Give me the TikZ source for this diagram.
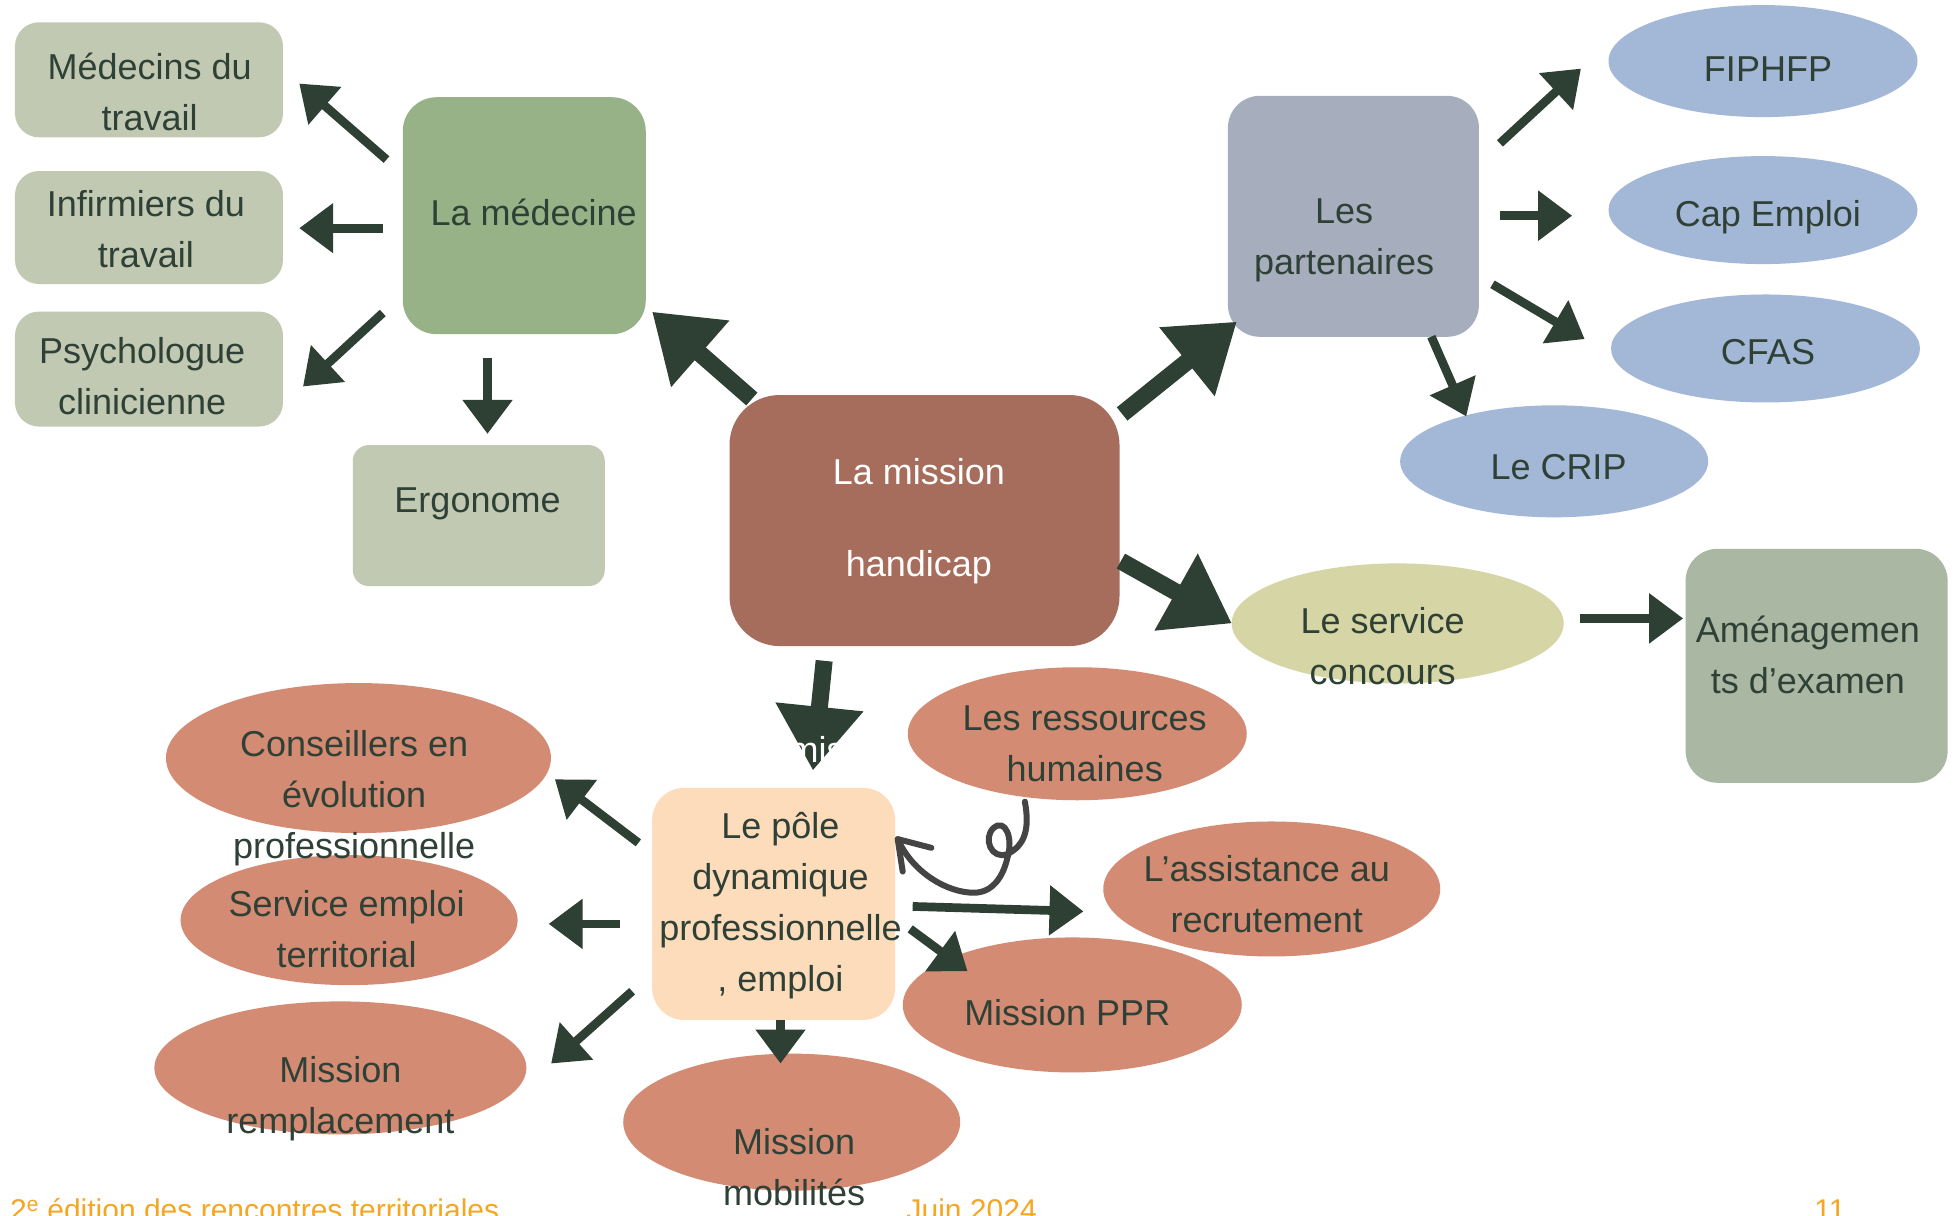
\documentclass[tikz,border=0pt]{standalone}
\usepackage{fontspec}
\setmainfont{Liberation Sans}
\usetikzlibrary{shapes.geometric,arrows.meta}
\definecolor{arr}{HTML}{2E4034}
\definecolor{txt}{HTML}{2F4136}
\definecolor{sage}{HTML}{C2C9B3}
\definecolor{medgreen}{HTML}{97B287}
\definecolor{brownm}{HTML}{A66D5C}
\definecolor{partgray}{HTML}{A6ADBD}
\definecolor{bluee}{HTML}{A3B8D6}
\definecolor{olive}{HTML}{D6D5A5}
\definecolor{amgreen}{HTML}{A9B7A3}
\definecolor{salmon}{HTML}{D48B74}
\definecolor{peach}{HTML}{FDDCBC}
\definecolor{curl}{HTML}{444444}
\definecolor{footer}{HTML}{F5A623}
\begin{document}
\begin{tikzpicture}[x=1.2468pt,y=-1.2468pt,
  box/.style={rectangle,rounded corners=24pt,inner sep=0pt},
  blob/.style={ellipse,inner sep=0pt},
  lbl/.style={text=txt,font=\fontsize{36}{51}\selectfont,align=center,inner sep=0pt,yshift=-0.5pt},
  sarrow/.style={draw=arr,line width=8.7pt,-{Triangle[length=34pt,width=48pt]}},
  barrow/.style={draw=arr,line width=17pt,-{Triangle[length=64pt,width=84pt]}},
  foot/.style={text=footer,font=\fontsize{30}{36}\selectfont,anchor=base west,inner sep=0pt}]
\useasboundingbox[fill=white] (0,0) rectangle (1568,975);

% ---- shapes ----
\node[box,fill=sage,minimum width=268pt,minimum height=115pt] (med1) at (119.5,64) {};
\node[box,fill=sage,minimum width=268pt,minimum height=113pt] (med2) at (119.5,182.5) {};
\node[box,fill=sage,minimum width=268pt,minimum height=115pt] (med3) at (119.5,296) {};
\node[box,fill=medgreen,minimum width=243pt,minimum height=237pt,rounded corners=34pt] (medecine) at (420.5,173) {};
\node[box,fill=sage,minimum width=252pt,minimum height=141pt,rounded corners=16pt] (ergo) at (384,413.5) {};
\node[box,fill=brownm,minimum width=390pt,minimum height=251pt,rounded corners=50pt] (mission) at (741.5,417.5) {};
\node[box,fill=partgray,minimum width=251pt,minimum height=241pt,rounded corners=32pt] (part) at (1085.5,173.5) {};
\node[box,fill=amgreen,minimum width=262pt,minimum height=234pt,rounded corners=32pt] (amenag) at (1457,534) {};
\node[box,fill=peach,minimum width=243pt,minimum height=232pt,rounded corners=32pt] (pole) at (620.5,725) {};

\node[blob,fill=bluee,minimum width=309pt,minimum height=112pt] (fiphfp) at (1414,49) {};
\node[blob,fill=bluee,minimum width=309pt,minimum height=108pt] (cap) at (1414,168.5) {};
\node[blob,fill=bluee,minimum width=309pt,minimum height=108pt] (cfas) at (1416,279.5) {};
\node[blob,fill=bluee,minimum width=308pt,minimum height=112pt] (crip) at (1246.5,370) {};
\node[blob,fill=olive,minimum width=332pt,minimum height=120pt] (concours) at (1121,500) {};
\node[blob,fill=salmon,minimum width=339pt,minimum height=133pt] (rh) at (864,588.5) {};
\node[blob,fill=salmon,minimum width=385pt,minimum height=150pt] (conseil) at (287.5,608) {};
\node[blob,fill=salmon,minimum width=337pt,minimum height=130pt] (semploi) at (280,738) {};
\node[blob,fill=salmon,minimum width=372pt,minimum height=133pt] (rempl) at (273,856.5) {};
\node[blob,fill=salmon,minimum width=337pt,minimum height=137pt] (mobil) at (635,900) {};
\node[blob,fill=salmon,minimum width=337pt,minimum height=135pt] (assist) at (1020,713) {};
\node[blob,fill=salmon,minimum width=339pt,minimum height=135pt] (ppr) at (860,806) {};

% ---- arrow end points ----
\coordinate (a1s) at (310,128);  \coordinate (a1e) at (240,67);
\coordinate (a2s) at (307,183);  \coordinate (a2e) at (240,183);
\coordinate (a3s) at (307,251);  \coordinate (a3e) at (243,310);
\coordinate (a4s) at (391,287);  \coordinate (a4e) at (391,348);
\coordinate (a5s) at (603,320);  \coordinate (a5e) at (523,250);
\coordinate (a6s) at (900,332);  \coordinate (a6e) at (992,258);
\coordinate (a7s) at (1203,115); \coordinate (a7e) at (1268,55);
\coordinate (a8s) at (1203,173); \coordinate (a8e) at (1261,173);
\coordinate (a9s) at (1197,228); \coordinate (a9e) at (1271,272);
\coordinate (a10s) at (1148,270); \coordinate (a10e) at (1176,334);
\coordinate (a11s) at (899,450); \coordinate (a11e) at (988,500);
\coordinate (a12s) at (1267,496); \coordinate (a12e) at (1350,496);
\coordinate (a13s) at (661,530); \coordinate (a13e) at (652,618);
\coordinate (a14s) at (512,676); \coordinate (a14e) at (445,625);
\coordinate (a15s) at (497,741); \coordinate (a15e) at (440,741);
\coordinate (a16s) at (507,795); \coordinate (a16e) at (442,853);
\coordinate (a17s) at (626,818); \coordinate (a17e) at (626,853);
\coordinate (a18s) at (732,727); \coordinate (a18e) at (869,731);
\coordinate (a19s) at (730,745); \coordinate (a19e) at (776,779);

\draw[sarrow] (a1s) -- (a1e);
\draw[sarrow] (a2s) -- (a2e);
\draw[sarrow] (a3s) -- (a3e);
\draw[sarrow] (a4s) -- (a4e);
\draw[barrow] (a5s) -- (a5e);
\draw[barrow] (a6s) -- (a6e);
\draw[sarrow] (a7s) -- (a7e);
\draw[sarrow] (a8s) -- (a8e);
\draw[sarrow] (a9s) -- (a9e);
\draw[sarrow] (a10s) -- (a10e);
\draw[barrow] (a11s) -- (a11e);
\draw[sarrow] (a12s) -- (a12e);
\draw[barrow] (a13s) -- (a13e);
\draw[sarrow] (a14s) -- (a14e);
\draw[sarrow] (a15s) -- (a15e);
\draw[sarrow] (a16s) -- (a16e);
\draw[sarrow] (a17s) -- (a17e);
\draw[sarrow] (a18s) -- (a18e);
\draw[sarrow] (a19s) -- (a19e);

% ---- curly arrow from RH to pole ----
\coordinate (c0) at (822,643);
\coordinate (ctip) at (720,673);
\draw[curl,line width=6pt,line cap=round,line join=round]
  (c0) .. controls (826,665) and (822,678) .. (808,685)
       .. controls (795,690) and (788,672) .. (797,664)
       .. controls (806,656) and (813,672) .. (808,688)
       .. controls (804,705) and (795,716) .. (781,716)
       .. controls (760,716) and (732,700) .. (ctip);
\draw[curl,line width=6pt,line cap=round,line join=round]
  (747,680) -- (ctip) -- (724,699);

% ---- texts ----
\node[lbl] (med1T) at (120,73.5) {Médecins du\\travail};
\node[lbl] (med2T) at (117,183) {Infirmiers du\\travail};
\node[lbl] (med3T) at (114,301.5) {Psychologue\\clinicienne};
\node[lbl] (medecineT) at (428,170) {La médecine};
\node[lbl] (ergoT) at (383,404) {Ergonome};
\node[lbl,text=white,font=\fontsize{36}{92}\selectfont] (missionT) at (737,418) {La mission\\handicap};
\node[lbl] (partT) at (1078,192.5) {Les\\partenaires};
\node[lbl] (fiphfpT) at (1418,55) {FIPHFP};
\node[lbl] (capT) at (1418,174) {Cap Emploi};
\node[lbl] (cfasT) at (1418,282) {CFAS};
\node[lbl] (cripT) at (1250,374) {Le CRIP};
\node[lbl] (concoursT) at (1109,517.5) {Le service\\concours};
\node[lbl] (amenagT) at (1450,524.5) {Aménagemen\\ts d’examen};
\node[lbl] (rhT) at (870,596.5) {Les ressources\\humaines};
\node[lbl] (poleT) at (626,726) {Le pôle\\dynamique\\professionnelle\\, emploi};
\node[lbl] (conseilT) at (284,640) {Conseillers en\\évolution\\professionnelle};
\node[lbl] (semploiT) at (278,744.5) {Service emploi\\territorial};
\node[lbl] (remplT) at (273,881) {Mission\\remplacement};
\node[lbl] (mobilT) at (637,936) {Mission\\mobilités};
\node[lbl] (assistT) at (1016,716.5) {L’assistance au\\recrutement};
\node[lbl] (pprT) at (856,812) {Mission PPR};
\node[lbl,text=white] (misT) at (655,601) {mis};

% ---- footer ----
\node[foot] (foot1) at (8,979) {2\textsuperscript{e} édition des rencontres territoriales};
\node[foot] (foot2) at (727,979) {Juin 2024};
\node[foot] (foot3) at (1455,979) {11};
\end{tikzpicture}
\end{document}
